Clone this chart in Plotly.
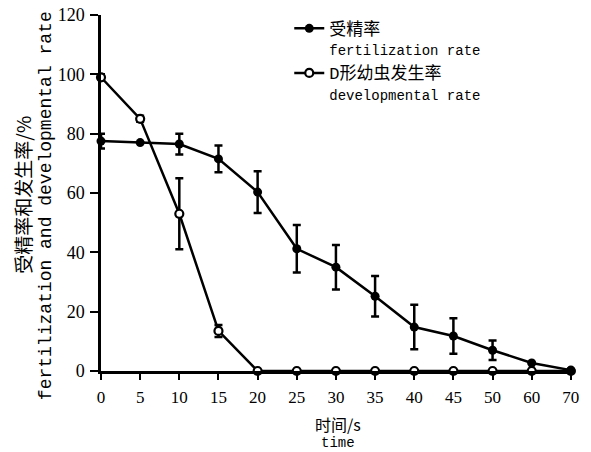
import plotly.graph_objects as go

times = ["0", "5", "10", "15", "20", "25", "30", "35", "40", "45", "50", "60", "70"]
fert = [77.5, 77.0, 76.5, 71.5, 60.3, 41.2, 35.0, 25.2, 14.8, 11.8, 7.0, 2.7, 0.3]
fert_err = [2.5, 0.0, 3.5, 4.5, 7.0, 8.0, 7.5, 6.8, 7.5, 6.0, 3.3, 0.0, 0.0]
dev = [99.0, 85.0, 53.0, 13.5, 0, 0, 0, 0, 0, 0, 0, 0, 0]
dev_err = [1.0, 1.0, 12.0, 2.0, 0, 0, 0, 0, 0, 0, 0, 0, 0]
y_ticks = [0, 20, 40, 60, 80, 100, 120]

mono = "Liberation Mono, Courier New, Noto Sans CJK SC"
serif = "Liberation Serif, Times New Roman, serif"
cjk = "Noto Sans CJK SC"


def leg(cn, en):
    return (f'<span style="font-size:17px">{cn}</span><br>'
            f'<span style="font-size:14px">{en}</span>')


fig = go.Figure()
fig.add_trace(go.Scatter(
    x=times, y=dev, mode="lines+markers",
    name=leg("D形幼虫发生率", "developmental rate"),
    line=dict(color="black", width=2.5),
    marker=dict(symbol="circle", size=8, color="white", line=dict(color="black", width=2.2)),
    error_y=dict(type="data", array=dev_err, color="black", thickness=2.5, width=4),
    cliponaxis=False,
))
fig.add_trace(go.Scatter(
    x=times, y=fert, mode="lines+markers",
    name=leg("受精率", "fertilization rate"),
    line=dict(color="black", width=2.5),
    marker=dict(symbol="circle", size=9, color="black"),
    error_y=dict(type="data", array=fert_err, color="black", thickness=2.5, width=4),
    cliponaxis=False,
))

fig.update_layout(
    width=591, height=452,
    margin=dict(l=101, r=17, t=15, b=81, autoexpand=False),
    paper_bgcolor="white", plot_bgcolor="white",
    showlegend=True,
    legend=dict(
        x=0.398, y=1.01, xanchor="left", yanchor="top",
        font=dict(family=mono, size=16, color="black"),
        valign="top", traceorder="reversed",
        bgcolor="rgba(0,0,0,0)",
    ),
    xaxis=dict(
        type="category", range=[0, 12.08], automargin=False,
        showline=True, linecolor="black", linewidth=2.5,
        ticks="outside", ticklen=6, tickwidth=2, tickcolor="black",
        ticklabelstandoff=3, ticklabeloverflow="allow",
        tickfont=dict(family=serif, size=17, color="black"),
        showgrid=False, zeroline=False,
    ),
    yaxis=dict(
        range=[0, 120], tickvals=y_ticks, automargin=False,
        showline=True, linecolor="black", linewidth=2.5,
        ticks="outside", ticklen=8, tickwidth=2, tickcolor="black",
        ticklabelstandoff=2, ticklabeloverflow="allow",
        tickfont=dict(family=serif, size=18, color="black"),
        showgrid=False, zeroline=False,
    ),
)

# Axis titles
fig.add_annotation(text="受精率和发生率/%", xref="paper", yref="paper", x=0, y=0.495,
                   xanchor="center", yanchor="middle",
                   xshift=-78, textangle=-90, showarrow=False,
                   font=dict(family=cjk, size=19, color="black"))
fig.add_annotation(text="fertilization and developmental rate", xref="paper", yref="paper",
                   x=0, y=0.463, xanchor="center", yanchor="middle",
                   xshift=-55, textangle=-90, showarrow=False,
                   font=dict(family=mono, size=18, color="black"))
fig.add_annotation(text="时间/s", xref="paper", yref="paper", x=0.5, y=0,
                   xanchor="center", yanchor="middle", yshift=-53,
                   showarrow=False, font=dict(family=cjk, size=16, color="black"))
fig.add_annotation(text="time", xref="paper", yref="paper", x=0.5, y=0,
                   xanchor="center", yanchor="middle", yshift=-72,
                   showarrow=False, font=dict(family=mono, size=14, color="black"))

# remove the default 8px page margin so the figure fills the window exactly
fig.write_html("out.html", config={"displayModeBar": False},
               post_script="document.body.style.margin='0';")
